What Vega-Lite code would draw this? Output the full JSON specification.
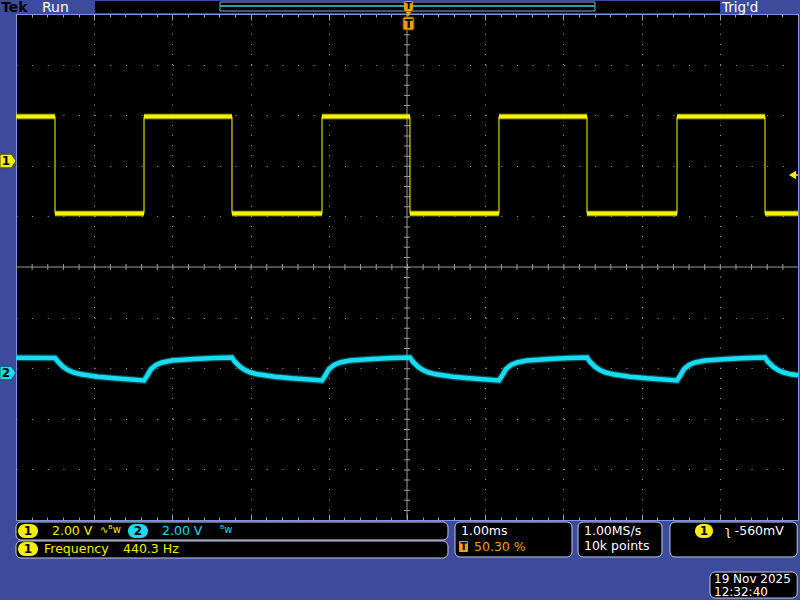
{
  "$schema": "https://vega.github.io/schema/vega-lite/v6.json",
  "width": 782,
  "height": 506,
  "autosize": {"type": "none"},
  "padding": {"left": 16, "top": 14, "right": 2, "bottom": 80},
  "background": "#3c4b9c",
  "config": {"view": {"fill": "#000000", "stroke": "#7b93e6", "strokeWidth": 1}, "font": "DejaVu Sans", "text": {"font": "DejaVu Sans"}},
  "resolve": {"axis": {"x": "independent", "y": "independent"}},
  "datasets": {
    "ch1seg": [
      {"t0": -5.0, "t1": -4.501, "v": 2.974},
      {"t0": -4.501, "t1": -3.363, "v": 1.057},
      {"t0": -3.363, "t1": -2.238, "v": 2.974},
      {"t0": -2.238, "t1": -1.087, "v": 1.057},
      {"t0": -1.087, "t1": 0.038, "v": 2.974},
      {"t0": 0.038, "t1": 1.176, "v": 1.057},
      {"t0": 1.176, "t1": 2.302, "v": 2.974},
      {"t0": 2.302, "t1": 3.453, "v": 1.057},
      {"t0": 3.453, "t1": 4.578, "v": 2.974},
      {"t0": 4.578, "t1": 5.0, "v": 1.057}
    ],
    "ch1edge": [
      {"t": -4.501, "lo": 1.057, "hi": 2.974},
      {"t": -3.363, "lo": 1.057, "hi": 2.974},
      {"t": -2.238, "lo": 1.057, "hi": 2.974},
      {"t": -1.087, "lo": 1.057, "hi": 2.974},
      {"t": 0.038, "lo": 1.057, "hi": 2.974},
      {"t": 1.176, "lo": 1.057, "hi": 2.974},
      {"t": 2.302, "lo": 1.057, "hi": 2.974},
      {"t": 3.453, "lo": 1.057, "hi": 2.974},
      {"t": 4.578, "lo": 1.057, "hi": 2.974}
    ],
    "ch2": [
      {"t": -5.0, "v": -1.794}, {"t": -4.501, "v": -1.798}, {"t": -4.463, "v": -1.872}, {"t": -4.399, "v": -1.970},
      {"t": -4.335, "v": -2.036}, {"t": -4.271, "v": -2.081}, {"t": -4.169, "v": -2.121}, {"t": -3.951, "v": -2.168},
      {"t": -3.734, "v": -2.200}, {"t": -3.363, "v": -2.243}, {"t": -3.325, "v": -2.154}, {"t": -3.273, "v": -2.016},
      {"t": -3.210, "v": -1.937}, {"t": -3.133, "v": -1.888}, {"t": -3.005, "v": -1.848}, {"t": -2.724, "v": -1.818},
      {"t": -2.468, "v": -1.798}, {"t": -2.238, "v": -1.789}, {"t": -2.200, "v": -1.872}, {"t": -2.136, "v": -1.970},
      {"t": -2.072, "v": -2.036}, {"t": -2.008, "v": -2.081}, {"t": -1.906, "v": -2.121}, {"t": -1.688, "v": -2.168},
      {"t": -1.471, "v": -2.200}, {"t": -1.087, "v": -2.243}, {"t": -1.049, "v": -2.154}, {"t": -0.997, "v": -2.016},
      {"t": -0.934, "v": -1.937}, {"t": -0.857, "v": -1.888}, {"t": -0.729, "v": -1.848}, {"t": -0.448, "v": -1.818},
      {"t": -0.192, "v": -1.798}, {"t": 0.038, "v": -1.789}, {"t": 0.076, "v": -1.872}, {"t": 0.140, "v": -1.970},
      {"t": 0.204, "v": -2.036}, {"t": 0.268, "v": -2.081}, {"t": 0.370, "v": -2.121}, {"t": 0.588, "v": -2.168},
      {"t": 0.805, "v": -2.200}, {"t": 1.176, "v": -2.243}, {"t": 1.214, "v": -2.154}, {"t": 1.266, "v": -2.016},
      {"t": 1.329, "v": -1.937}, {"t": 1.406, "v": -1.888}, {"t": 1.534, "v": -1.848}, {"t": 1.815, "v": -1.818},
      {"t": 2.071, "v": -1.798}, {"t": 2.302, "v": -1.789}, {"t": 2.340, "v": -1.872}, {"t": 2.404, "v": -1.970},
      {"t": 2.468, "v": -2.036}, {"t": 2.532, "v": -2.081}, {"t": 2.634, "v": -2.121}, {"t": 2.852, "v": -2.168},
      {"t": 3.069, "v": -2.200}, {"t": 3.453, "v": -2.243}, {"t": 3.491, "v": -2.154}, {"t": 3.543, "v": -2.016},
      {"t": 3.606, "v": -1.937}, {"t": 3.683, "v": -1.888}, {"t": 3.811, "v": -1.848}, {"t": 4.092, "v": -1.818},
      {"t": 4.348, "v": -1.798}, {"t": 4.578, "v": -1.789}, {"t": 4.616, "v": -1.872}, {"t": 4.680, "v": -1.970},
      {"t": 4.744, "v": -2.036}, {"t": 4.808, "v": -2.081}, {"t": 4.910, "v": -2.121}, {"t": 5.0, "v": -2.140}
    ]
  },
  "layer": [
    {
      "data": {"values": [{}]},
      "mark": {"type": "rule", "color": "#9a9a9a", "strokeWidth": 1},
      "encoding": {
        "x": {"datum": 0, "type": "quantitative", "scale": {"domain": [-5, 5], "nice": false, "zero": false},
          "axis": {"orient": "bottom", "title": null, "labels": false, "domain": false,
            "values": [-5,-4.8,-4.6,-4.4,-4.2,-4,-3.8,-3.6,-3.4,-3.2,-3,-2.8,-2.6,-2.4,-2.2,-2,-1.8,-1.6,-1.4,-1.2,-1,-0.8,-0.6,-0.4,-0.2,0,0.2,0.4,0.6,0.8,1,1.2,1.4,1.6,1.8,2,2.2,2.4,2.6,2.8,3,3.2,3.4,3.6,3.8,4,4.2,4.4,4.6,4.8,5],
            "grid": true, "gridColor": "#a0a0a0", "gridDash": [1, 9.12], "gridWidth": 1,
            "gridOpacity": {"condition": {"test": "abs(datum.value - round(datum.value)) < 0.01 && abs(datum.value) > 0.5 && abs(datum.value) < 4.5", "value": 1}, "value": 0},
            "ticks": true, "tickColor": "#a0a0a0", "tickWidth": 1,
            "tickSize": {"condition": {"test": "abs(datum.value - round(datum.value)) < 0.01", "value": -6}, "value": -3}}}
      }
    },
    {
      "data": {"values": [{}]},
      "mark": {"type": "rule", "color": "#9a9a9a", "strokeWidth": 1},
      "encoding": {
        "y": {"datum": 0, "type": "quantitative", "scale": {"domain": [-5, 5], "nice": false, "zero": false},
          "axis": {"orient": "left", "title": null, "labels": false, "domain": false, "ticks": false,
            "values": [-4, -3, -2, -1, 1, 2, 3, 4],
            "grid": true, "gridColor": "#a0a0a0", "gridDash": [1, 14.64], "gridWidth": 1}}
      }
    },
    {
      "data": {"values": [{}]},
      "mark": {"type": "rule", "color": "#9a9a9a", "strokeWidth": 6, "strokeDash": [1, 9.12]},
      "encoding": {
        "x": {"datum": 0, "type": "quantitative",
          "axis": {"orient": "top", "title": null, "labels": false, "domain": false, "grid": false,
            "values": [-5,-4.8,-4.6,-4.4,-4.2,-4,-3.8,-3.6,-3.4,-3.2,-3,-2.8,-2.6,-2.4,-2.2,-2,-1.8,-1.6,-1.4,-1.2,-1,-0.8,-0.6,-0.4,-0.2,0,0.2,0.4,0.6,0.8,1,1.2,1.4,1.6,1.8,2,2.2,2.4,2.6,2.8,3,3.2,3.4,3.6,3.8,4,4.2,4.4,4.6,4.8,5],
            "ticks": true, "tickColor": "#a0a0a0", "tickWidth": 1,
            "tickSize": {"condition": {"test": "abs(datum.value - round(datum.value)) < 0.01", "value": -6}, "value": -3}}},
        "y": {"datum": 5, "type": "quantitative", "axis": null},
        "y2": {"datum": -5}
      }
    },
    {
      "data": {"values": [{}]},
      "mark": {"type": "rule", "color": "#9a9a9a", "strokeWidth": 6, "strokeDash": [1, 14.64]},
      "encoding": {
        "x": {"datum": -5, "type": "quantitative", "axis": null},
        "x2": {"datum": 5},
        "y": {"datum": 0, "type": "quantitative", "axis": null}
      }
    },
    {
      "data": {"name": "ch2"},
      "mark": {"type": "line", "color": "#12cfe6", "strokeWidth": 7, "opacity": 0.35},
      "encoding": {
        "x": {"field": "t", "type": "quantitative", "axis": null},
        "y": {"field": "v", "type": "quantitative", "axis": null}
      }
    },
    {
      "data": {"name": "ch2"},
      "mark": {"type": "line", "color": "#18dcef", "strokeWidth": 4.5},
      "encoding": {
        "x": {"field": "t", "type": "quantitative", "axis": null},
        "y": {"field": "v", "type": "quantitative", "axis": null}
      }
    },
    {
      "data": {"name": "ch1edge"},
      "mark": {"type": "rule", "color": "#d6d600", "strokeWidth": 1.2},
      "encoding": {
        "x": {"field": "t", "type": "quantitative", "axis": null},
        "y": {"field": "lo", "type": "quantitative", "axis": null},
        "y2": {"field": "hi"}
      }
    },
    {
      "data": {"name": "ch1seg"},
      "mark": {"type": "rule", "color": "#e2e200", "strokeWidth": 6, "opacity": 0.45},
      "encoding": {
        "x": {"field": "t0", "type": "quantitative", "axis": null},
        "x2": {"field": "t1"},
        "y": {"field": "v", "type": "quantitative", "axis": null}
      }
    },
    {
      "data": {"name": "ch1seg"},
      "mark": {"type": "rule", "color": "#f4f400", "strokeWidth": 4},
      "encoding": {
        "x": {"field": "t0", "type": "quantitative", "axis": null},
        "x2": {"field": "t1"},
        "y": {"field": "v", "type": "quantitative", "axis": null}
      }
    },
    {
      "data": {"values": [{}]},
      "mark": {"type": "rect", "color": "#000000"},
      "encoding": {
        "x": {"datum": -3.99, "type": "quantitative", "axis": null}, "x2": {"datum": 4.003},
        "y": {"datum": 5.257, "type": "quantitative", "axis": null}, "y2": {"datum": 5.02}
      }
    },
    {
      "data": {"values": [{}]},
      "mark": {"type": "rect", "fill": null, "fillOpacity": 0, "stroke": "#9aa4c8", "strokeWidth": 1},
      "encoding": {
        "x": {"datum": -2.391, "type": "quantitative", "axis": null}, "x2": {"datum": 2.404},
        "y": {"datum": 5.237, "type": "quantitative", "axis": null}, "y2": {"datum": 5.059}
      }
    },
    {
      "data": {"values": [{}]},
      "mark": {"type": "rule", "color": "#1aa6ae", "strokeWidth": 2},
      "encoding": {
        "x": {"datum": -2.391, "type": "quantitative", "axis": null}, "x2": {"datum": 2.404},
        "y": {"datum": 5.158, "type": "quantitative", "axis": null}
      }
    },
    {
      "data": {"values": [{}]},
      "mark": {"type": "rect", "color": "#f0a000", "cornerRadius": 2},
      "encoding": {
        "x": {"datum": -0.038, "type": "quantitative", "axis": null}, "x2": {"datum": 0.077},
        "y": {"datum": 5.257, "type": "quantitative", "axis": null}, "y2": {"datum": 5.059}
      }
    },
    {
      "data": {"values": [{}]},
      "mark": {"type": "text", "text": "T", "color": "#000000", "fontSize": 9, "fontWeight": "bold", "align": "center", "baseline": "middle"},
      "encoding": {
        "x": {"datum": 0.019, "type": "quantitative", "axis": null},
        "y": {"datum": 5.158, "type": "quantitative", "axis": null}
      }
    },
    {
      "data": {"values": [{}]},
      "mark": {"type": "point", "shape": "triangle-down", "filled": true, "color": "#f0a000", "size": 35, "opacity": 1},
      "encoding": {
        "x": {"datum": 0.019, "type": "quantitative", "axis": null},
        "y": {"datum": 5.0, "type": "quantitative", "axis": null}
      }
    },
    {
      "data": {"values": [{}]},
      "mark": {"type": "rect", "color": "#f0a000", "cornerRadius": 2, "stroke": "#6a4400", "strokeWidth": 1},
      "encoding": {
        "x": {"datum": -0.051, "type": "quantitative", "axis": null}, "x2": {"datum": 0.09},
        "y": {"datum": 4.941, "type": "quantitative", "axis": null}, "y2": {"datum": 4.684}
      }
    },
    {
      "data": {"values": [{}]},
      "mark": {"type": "text", "text": "T", "color": "#000000", "fontSize": 12, "fontWeight": "bold", "align": "center", "baseline": "middle"},
      "encoding": {
        "x": {"datum": 0.019, "type": "quantitative", "axis": null},
        "y": {"datum": 4.812, "type": "quantitative", "axis": null}
      }
    },
    {
      "data": {"values": [{}]},
      "mark": {"type": "text", "text": "Tek", "color": "#000000", "fontSize": 14, "fontWeight": "bold", "align": "left", "baseline": "middle"},
      "encoding": {
        "x": {"datum": -5.19, "type": "quantitative", "axis": null},
        "y": {"datum": 5.12, "type": "quantitative", "axis": null}
      }
    },
    {
      "data": {"values": [{}]},
      "mark": {"type": "text", "text": "Run", "color": "#ffffff", "fontSize": 14, "align": "left", "baseline": "middle"},
      "encoding": {
        "x": {"datum": -4.668, "type": "quantitative", "axis": null},
        "y": {"datum": 5.12, "type": "quantitative", "axis": null}
      }
    },
    {
      "data": {"values": [{}]},
      "mark": {"type": "text", "text": "Trig'd", "color": "#ffffff", "fontSize": 13.5, "align": "left", "baseline": "middle"},
      "encoding": {
        "x": {"datum": 4.028, "type": "quantitative", "axis": null},
        "y": {"datum": 5.12, "type": "quantitative", "axis": null}
      }
    },
    {
      "data": {"values": [{}]},
      "mark": {"type": "point", "shape": "M-1,-0.85L0.4,-0.85L1,0L0.4,0.85L-1,0.85Z", "filled": true, "color": "#f0f000", "stroke": "#555500", "strokeWidth": 1, "size": 256, "opacity": 1},
      "encoding": {
        "x": {"datum": -5.102, "type": "quantitative", "axis": null},
        "y": {"datum": 2.095, "type": "quantitative", "axis": null}
      }
    },
    {
      "data": {"values": [{}]},
      "mark": {"type": "text", "text": "1", "color": "#000000", "fontSize": 12, "fontWeight": "bold", "align": "center", "baseline": "middle"},
      "encoding": {
        "x": {"datum": -5.13, "type": "quantitative", "axis": null},
        "y": {"datum": 2.095, "type": "quantitative", "axis": null}
      }
    },
    {
      "data": {"values": [{}]},
      "mark": {"type": "point", "shape": "M-1,-0.85L0.4,-0.85L1,0L0.4,0.85L-1,0.85Z", "filled": true, "color": "#20d8f0", "stroke": "#005560", "strokeWidth": 1, "size": 256, "opacity": 1},
      "encoding": {
        "x": {"datum": -5.102, "type": "quantitative", "axis": null},
        "y": {"datum": -2.095, "type": "quantitative", "axis": null}
      }
    },
    {
      "data": {"values": [{}]},
      "mark": {"type": "text", "text": "2", "color": "#000000", "fontSize": 12, "fontWeight": "bold", "align": "center", "baseline": "middle"},
      "encoding": {
        "x": {"datum": -5.13, "type": "quantitative", "axis": null},
        "y": {"datum": -2.095, "type": "quantitative", "axis": null}
      }
    },
    {
      "data": {"values": [{}]},
      "mark": {"type": "point", "shape": "triangle-left", "filled": true, "color": "#f0f000", "size": 70, "opacity": 1},
      "encoding": {
        "x": {"datum": 4.93, "type": "quantitative", "axis": null},
        "y": {"datum": 1.818, "type": "quantitative", "axis": null}
      }
    },
    {
      "data": {"values": [{}]},
      "mark": {"type": "rule", "color": "#f0f000", "strokeWidth": 1.5},
      "encoding": {
        "x": {"datum": 4.93, "type": "quantitative", "axis": null}, "x2": {"datum": 5.0},
        "y": {"datum": 1.818, "type": "quantitative", "axis": null}
      }
    },
    {
      "data": {"values": [{}]},
      "mark": {"type": "rect", "fill": "#000000", "stroke": "#c4c8dc", "strokeWidth": 1, "cornerRadius": 5},
      "encoding": {
        "x": {"datum": -5.0, "type": "quantitative", "axis": null}, "x2": {"datum": 0.524},
        "y": {"datum": -5.04, "type": "quantitative", "axis": null}, "y2": {"datum": -5.395}
      }
    },
    {
      "data": {"values": [{}]},
      "mark": {"type": "rect", "fill": "#000000", "stroke": "#c4c8dc", "strokeWidth": 1, "cornerRadius": 5},
      "encoding": {
        "x": {"datum": -5.0, "type": "quantitative", "axis": null}, "x2": {"datum": 0.524},
        "y": {"datum": -5.415, "type": "quantitative", "axis": null}, "y2": {"datum": -5.751}
      }
    },
    {
      "data": {"values": [{}]},
      "mark": {"type": "rect", "fill": "#000000", "stroke": "#c4c8dc", "strokeWidth": 1, "cornerRadius": 5},
      "encoding": {
        "x": {"datum": 0.614, "type": "quantitative", "axis": null}, "x2": {"datum": 2.11},
        "y": {"datum": -5.04, "type": "quantitative", "axis": null}, "y2": {"datum": -5.731}
      }
    },
    {
      "data": {"values": [{}]},
      "mark": {"type": "rect", "fill": "#000000", "stroke": "#c4c8dc", "strokeWidth": 1, "cornerRadius": 5},
      "encoding": {
        "x": {"datum": 2.187, "type": "quantitative", "axis": null}, "x2": {"datum": 3.261},
        "y": {"datum": -5.04, "type": "quantitative", "axis": null}, "y2": {"datum": -5.731}
      }
    },
    {
      "data": {"values": [{}]},
      "mark": {"type": "rect", "fill": "#000000", "stroke": "#c4c8dc", "strokeWidth": 1, "cornerRadius": 5},
      "encoding": {
        "x": {"datum": 3.363, "type": "quantitative", "axis": null}, "x2": {"datum": 4.99},
        "y": {"datum": -5.04, "type": "quantitative", "axis": null}, "y2": {"datum": -5.731}
      }
    },
    {
      "data": {"values": [{}]},
      "mark": {"type": "rect", "fill": "#000000", "stroke": "#c4c8dc", "strokeWidth": 1, "cornerRadius": 5},
      "encoding": {
        "x": {"datum": 3.875, "type": "quantitative", "axis": null}, "x2": {"datum": 4.99},
        "y": {"datum": -6.028, "type": "quantitative", "axis": null}, "y2": {"datum": -6.542}
      }
    },
    {
      "data": {"values": [{}]},
      "mark": {"type": "rect", "color": "#f0f000", "cornerRadius": 7},
      "encoding": {
        "x": {"datum": -4.974, "type": "quantitative", "axis": null}, "x2": {"datum": -4.719},
        "y": {"datum": -5.079, "type": "quantitative", "axis": null}, "y2": {"datum": -5.356}
      }
    },
    {
      "data": {"values": [{}]},
      "mark": {"type": "rect", "color": "#20d8f0", "cornerRadius": 7},
      "encoding": {
        "x": {"datum": -3.568, "type": "quantitative", "axis": null}, "x2": {"datum": -3.312},
        "y": {"datum": -5.079, "type": "quantitative", "axis": null}, "y2": {"datum": -5.356}
      }
    },
    {
      "data": {"values": [{}]},
      "mark": {"type": "rect", "color": "#f0f000", "cornerRadius": 7},
      "encoding": {
        "x": {"datum": -4.974, "type": "quantitative", "axis": null}, "x2": {"datum": -4.719},
        "y": {"datum": -5.435, "type": "quantitative", "axis": null}, "y2": {"datum": -5.711}
      }
    },
    {
      "data": {"values": [{}]},
      "mark": {"type": "rect", "color": "#f0f000", "cornerRadius": 7},
      "encoding": {
        "x": {"datum": 3.683, "type": "quantitative", "axis": null}, "x2": {"datum": 3.913},
        "y": {"datum": -5.079, "type": "quantitative", "axis": null}, "y2": {"datum": -5.356}
      }
    },
    {
      "data": {"values": [{}]},
      "mark": {"type": "rect", "color": "#f0a000", "cornerRadius": 1},
      "encoding": {
        "x": {"datum": 0.665, "type": "quantitative", "axis": null}, "x2": {"datum": 0.78},
        "y": {"datum": -5.415, "type": "quantitative", "axis": null}, "y2": {"datum": -5.632}
      }
    },
    {
      "data": {"values": [{}]},
      "mark": {"type": "text", "text": "1", "color": "#000000", "fontSize": 12, "fontWeight": "bold", "align": "center", "baseline": "middle"},
      "encoding": {"x": {"datum": -4.847, "type": "quantitative", "axis": null}, "y": {"datum": -5.217, "type": "quantitative", "axis": null}}
    },
    {
      "data": {"values": [{}]},
      "mark": {"type": "text", "text": "2", "color": "#000000", "fontSize": 12, "fontWeight": "bold", "align": "center", "baseline": "middle"},
      "encoding": {"x": {"datum": -3.44, "type": "quantitative", "axis": null}, "y": {"datum": -5.217, "type": "quantitative", "axis": null}}
    },
    {
      "data": {"values": [{}]},
      "mark": {"type": "text", "text": "1", "color": "#000000", "fontSize": 12, "fontWeight": "bold", "align": "center", "baseline": "middle"},
      "encoding": {"x": {"datum": -4.847, "type": "quantitative", "axis": null}, "y": {"datum": -5.573, "type": "quantitative", "axis": null}}
    },
    {
      "data": {"values": [{}]},
      "mark": {"type": "text", "text": "1", "color": "#000000", "fontSize": 12, "fontWeight": "bold", "align": "center", "baseline": "middle"},
      "encoding": {"x": {"datum": 3.798, "type": "quantitative", "axis": null}, "y": {"datum": -5.217, "type": "quantitative", "axis": null}}
    },
    {
      "data": {"values": [{}]},
      "mark": {"type": "text", "text": "T", "color": "#000000", "fontSize": 10, "fontWeight": "bold", "align": "center", "baseline": "middle"},
      "encoding": {"x": {"datum": 0.723, "type": "quantitative", "axis": null}, "y": {"datum": -5.524, "type": "quantitative", "axis": null}}
    },
    {
      "data": {"values": [{}]},
      "mark": {"type": "text", "text": "2.00 V", "color": "#f0f000", "fontSize": 12.5, "align": "left", "baseline": "middle"},
      "encoding": {"x": {"datum": -4.54, "type": "quantitative", "axis": null}, "y": {"datum": -5.225, "type": "quantitative", "axis": null}}
    },
    {
      "data": {"values": [{}]},
      "mark": {"type": "text", "text": "∿ᴮw", "color": "#f0f000", "fontSize": 10, "align": "left", "baseline": "middle"},
      "encoding": {"x": {"datum": -3.926, "type": "quantitative", "axis": null}, "y": {"datum": -5.2, "type": "quantitative", "axis": null}}
    },
    {
      "data": {"values": [{}]},
      "mark": {"type": "text", "text": "2.00 V", "color": "#20d8f0", "fontSize": 12.5, "align": "left", "baseline": "middle"},
      "encoding": {"x": {"datum": -3.133, "type": "quantitative", "axis": null}, "y": {"datum": -5.225, "type": "quantitative", "axis": null}}
    },
    {
      "data": {"values": [{}]},
      "mark": {"type": "text", "text": "ᴮw", "color": "#20d8f0", "fontSize": 10, "align": "left", "baseline": "middle"},
      "encoding": {"x": {"datum": -2.391, "type": "quantitative", "axis": null}, "y": {"datum": -5.2, "type": "quantitative", "axis": null}}
    },
    {
      "data": {"values": [{}]},
      "mark": {"type": "text", "text": "Frequency", "color": "#f0f000", "fontSize": 12.5, "align": "left", "baseline": "middle"},
      "encoding": {"x": {"datum": -4.642, "type": "quantitative", "axis": null}, "y": {"datum": -5.573, "type": "quantitative", "axis": null}}
    },
    {
      "data": {"values": [{}]},
      "mark": {"type": "text", "text": "440.3 Hz", "color": "#f0f000", "fontSize": 12.5, "align": "left", "baseline": "middle"},
      "encoding": {"x": {"datum": -3.632, "type": "quantitative", "axis": null}, "y": {"datum": -5.573, "type": "quantitative", "axis": null}}
    },
    {
      "data": {"values": [{}]},
      "mark": {"type": "text", "text": "1.00ms", "color": "#ffffff", "fontSize": 12.5, "align": "left", "baseline": "middle"},
      "encoding": {"x": {"datum": 0.691, "type": "quantitative", "axis": null}, "y": {"datum": -5.225, "type": "quantitative", "axis": null}}
    },
    {
      "data": {"values": [{}]},
      "mark": {"type": "text", "text": "50.30 %", "color": "#f0a000", "fontSize": 12.5, "align": "left", "baseline": "middle"},
      "encoding": {"x": {"datum": 0.857, "type": "quantitative", "axis": null}, "y": {"datum": -5.524, "type": "quantitative", "axis": null}}
    },
    {
      "data": {"values": [{}]},
      "mark": {"type": "text", "text": "1.00MS/s", "color": "#ffffff", "fontSize": 12.5, "align": "left", "baseline": "middle"},
      "encoding": {"x": {"datum": 2.263, "type": "quantitative", "axis": null}, "y": {"datum": -5.225, "type": "quantitative", "axis": null}}
    },
    {
      "data": {"values": [{}]},
      "mark": {"type": "text", "text": "10k points", "color": "#ffffff", "fontSize": 12.5, "align": "left", "baseline": "middle"},
      "encoding": {"x": {"datum": 2.263, "type": "quantitative", "axis": null}, "y": {"datum": -5.514, "type": "quantitative", "axis": null}}
    },
    {
      "data": {"values": [{}]},
      "mark": {"type": "text", "text": "ʅ -560mV", "color": "#ffffff", "fontSize": 12.5, "align": "left", "baseline": "middle"},
      "encoding": {"x": {"datum": 4.066, "type": "quantitative", "axis": null}, "y": {"datum": -5.225, "type": "quantitative", "axis": null}}
    },
    {
      "data": {"values": [{}]},
      "mark": {"type": "text", "text": "19 Nov 2025", "color": "#ffffff", "fontSize": 12, "align": "left", "baseline": "middle"},
      "encoding": {"x": {"datum": 3.926, "type": "quantitative", "axis": null}, "y": {"datum": -6.166, "type": "quantitative", "axis": null}}
    },
    {
      "data": {"values": [{}]},
      "mark": {"type": "text", "text": "12:32:40", "color": "#ffffff", "fontSize": 12, "align": "left", "baseline": "middle"},
      "encoding": {"x": {"datum": 3.926, "type": "quantitative", "axis": null}, "y": {"datum": -6.43, "type": "quantitative", "axis": null}}
    }
  ]
}
